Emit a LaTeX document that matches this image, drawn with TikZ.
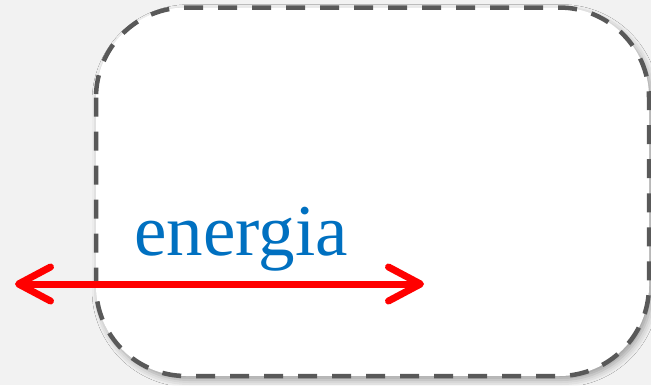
\documentclass[tikz,border=0pt]{standalone}
\usepackage{fontspec}
\setmainfont{Liberation Serif}
\usetikzlibrary{arrows.meta,shadows.blur}
\definecolor{pagebg}{HTML}{F2F2F2}
\definecolor{framegray}{HTML}{595959}
\definecolor{textblue}{HTML}{0070C0}
\definecolor{arrowred}{HTML}{FF0000}
\tikzset{
  dashframe/.style={draw=framegray, line width=4.5bp, dash pattern=on 19bp off 15bp,
    fill=white, rounded corners=90bp,
    blur shadow={shadow xshift=3bp, shadow yshift=-4bp, shadow blur radius=7bp, shadow opacity=35}},
  label/.style={font=\fontsize{73bp}{80bp}\selectfont, text=textblue, inner sep=0pt},
  energyarrow/.style={draw=arrowred, line width=7bp, line cap=round,
    {Straight Barb[length=32bp, width=34bp, line width=7bp, round]}-{Straight Barb[length=32bp, width=34bp, line width=7bp, round]}}
}
\begin{document}
\begin{tikzpicture}[x=1bp,y=-1bp]
  \fill[pagebg] (0,0) rectangle (651,385);
  \useasboundingbox (0,0) rectangle (651,385);
  \path[dashframe] (96,7.5) rectangle (649,376);
  \node[label, anchor=base] (energia) at (241,255) {energia};
  \coordinate (leftend) at (15,284);
  \coordinate (rightend) at (424,284);
  \draw[energyarrow] (leftend) -- (rightend);
\end{tikzpicture}
\end{document}
